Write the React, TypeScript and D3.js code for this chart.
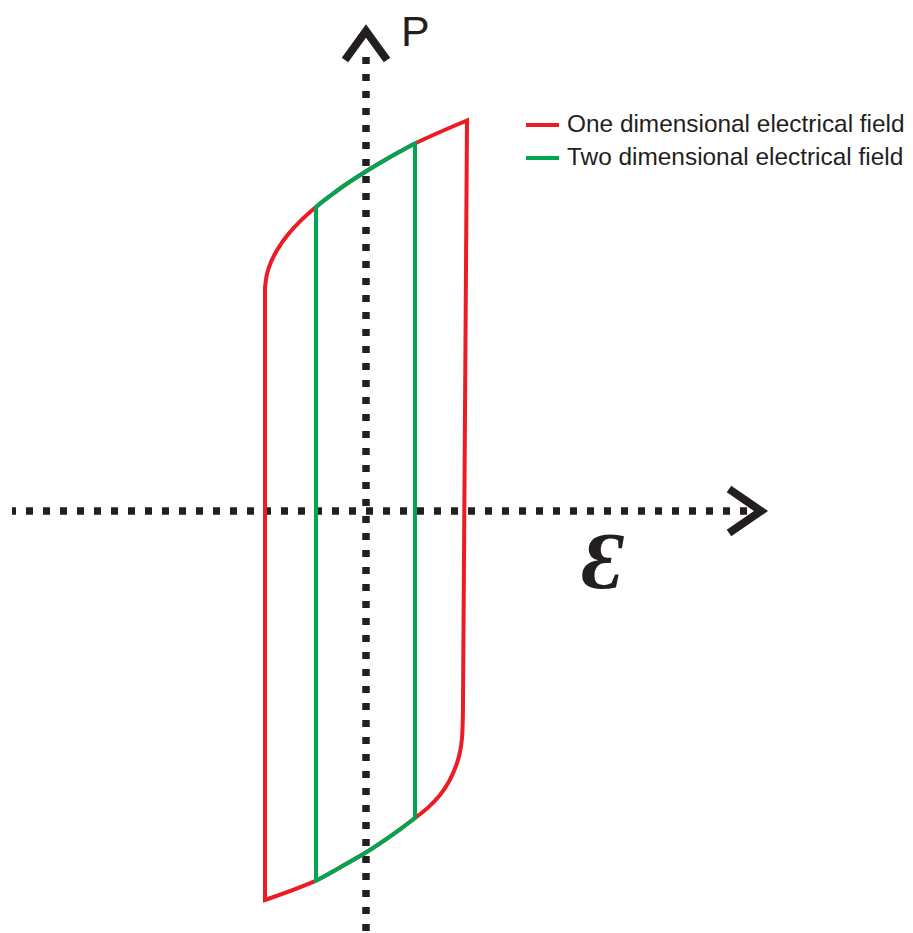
import React from "react";
import * as d3 from "d3";

// Upper branch of the hysteresis loop (E, P), left to right
const topE = [-2.02, -1.98, -1.9, -1.76, -1.56, -1.32, -1.0, -0.72, -0.42, -0.02, 0.38, 0.68, 0.98, 1.48, 2.02];
const topP = [2.23, 2.37, 2.49, 2.624, 2.764, 2.896, 3.04, 3.15, 3.26, 3.39, 3.51, 3.595, 3.675, 3.79, 3.905];
// Lower branch of the loop (E, P), right to left
const botE = [1.94, 1.92, 1.88, 1.8, 1.66, 1.48, 1.24, 0.98, 0.68, 0.28, -0.02, -0.52, -1.0, -2.02];
const botP = [-1.94, -2.27, -2.41, -2.55, -2.705, -2.84, -2.966, -3.07, -3.183, -3.323, -3.42, -3.564, -3.696, -3.89];
// Coercive field of the two-dimensional loop
const greenE = [-1.0, 0.98];
// Axis extents (data units): [start, end of dots, arrow tip]
const axisE = [-7.08, 7.64, 7.9];
const axisP = [-4.22, 4.54, 4.8];
const legendLabels = ["One dimensional electrical field", "Two dimensional electrical field"];
const legendColors = ["#ED1C24", "#00A651"];

const W = 913;
const H = 933;

export default function App() {
  const x = d3.scaleLinear().domain([-2, 2]).range([266, 466]);
  const y = d3.scaleLinear().domain([-4, 4]).range([911, 111]);

  const line = d3
    .line<[number, number]>()
    .x((d) => x(d[0]))
    .y((d) => y(d[1]))
    .curve(d3.curveCatmullRom.alpha(0.5));

  const topPts = topE.map((e, i) => [e, topP[i]] as [number, number]);
  const botPts = botE.map((e, i) => [e, botP[i]] as [number, number]);
  const topPath = line(topPts) || "";
  const botPath = line(botPts) || "";
  const redPath = topPath + botPath.replace(/^M/, "L") + "Z";

  const at = (E: number[], P: number[], e: number) => {
    const i = E.findIndex((v) => Math.abs(v - e) < 1e-6);
    return P[i];
  };
  const gL = greenE[0];
  const gR = greenE[1];
  const gTopL = at(topE, topP, gL);
  const gTopR = at(topE, topP, gR);
  const gBotL = at(botE, botP, gL);
  const gBotR = at(botE, botP, gR);

  const axisColor = "#231F20";
  const x0 = x(0);
  const y0 = y(0);
  const tipX = x(axisE[2]);
  const tipY = y(axisP[2]);

  return (
    <svg
      width={W}
      height={H}
      style={{ position: "absolute", left: 0, top: 0, background: "#fff" }}
    >
      <defs>
        <clipPath id="gclip">
          <rect x={x(gL) - 2} y={0} width={x(gR) - x(gL) + 4} height={H} />
        </clipPath>
      </defs>
      {/* axes */}
      <line
        x1={x(axisE[0])}
        x2={x(axisE[1])}
        y1={y0}
        y2={y0}
        stroke={axisColor}
        strokeWidth={7.5}
        strokeDasharray="7 10"
        strokeDashoffset={3}
      />
      <line
        x1={x0}
        x2={x0}
        y1={y(axisP[1])}
        y2={y(axisP[0])}
        stroke={axisColor}
        strokeWidth={7.5}
        strokeDasharray="7 10"
      />
      <polyline
        points={`${tipX - 32},${y0 - 22} ${tipX},${y0} ${tipX - 32},${y0 + 22}`}
        fill="none"
        stroke={axisColor}
        strokeWidth={8}
        strokeLinejoin="miter"
        strokeMiterlimit={10}
      />
      <polyline
        points={`${x0 - 21},${tipY + 29} ${x0},${tipY} ${x0 + 21},${tipY + 29}`}
        fill="none"
        stroke={axisColor}
        strokeWidth={8}
        strokeLinejoin="miter"
        strokeMiterlimit={10}
      />

      {/* red loop */}
      <path d={redPath} fill="none" stroke={legendColors[0]} strokeWidth={4} strokeLinejoin="miter" />
      {/* green loop */}
      <g clipPath="url(#gclip)">
        <path d={topPath} fill="none" stroke={legendColors[1]} strokeWidth={4} />
        <path d={botPath} fill="none" stroke={legendColors[1]} strokeWidth={4} />
      </g>
      <line x1={x(gL)} x2={x(gL)} y1={y(gTopL)} y2={y(gBotL)} stroke={legendColors[1]} strokeWidth={4} />
      <line x1={x(gR)} x2={x(gR)} y1={y(gTopR)} y2={y(gBotR)} stroke={legendColors[1]} strokeWidth={4} />

      {/* axis labels */}
      <text
        x={401}
        y={46}
        fontFamily="'Liberation Sans', Arial, sans-serif"
        fontSize={43}
        fill={axisColor}
      >
        P
      </text>
      <text
        x={582}
        y={588}
        fontFamily="'Liberation Serif', 'DejaVu Serif', serif"
        fontStyle="italic"
        fontWeight="bold"
        fontSize={80}
        fill={axisColor}
      >
        Ɛ
      </text>

      {/* legend */}
      {legendLabels.map((lab, i) => (
        <g key={lab} transform={`translate(0, ${i * 33})`}>
          <line x1={526} x2={559} y1={125} y2={125} stroke={legendColors[i]} strokeWidth={4} />
          <text
            x={567}
            y={132}
            fontFamily="'Liberation Sans', Arial, sans-serif"
            fontSize={24.4}
            fill={axisColor}
          >
            {lab}
          </text>
        </g>
      ))}
    </svg>
  );
}
